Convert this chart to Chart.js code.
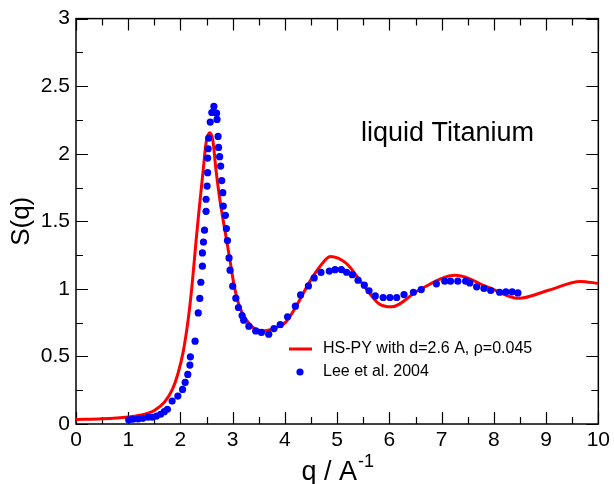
<!DOCTYPE html>
<html>
<head>
<meta charset="utf-8">
<title>liquid Titanium S(q)</title>
<script src="https://cdn.jsdelivr.net/npm/chart.js@4/dist/chart.umd.min.js"></script>
<style>
  body { margin: 0; background: #fff; }
  canvas { display: block; }
</style>
</head>
<body>
<canvas id="sq" width="614" height="484"></canvas>
<script>
// HS-PY model curve
const hsQ = [0, 0.5, 1.0, 1.3, 1.5, 1.7, 1.85, 1.95, 2.05, 2.15, 2.22, 2.30, 2.35, 2.43, 2.49, 2.56,
    2.62, 2.68, 2.75, 2.83, 2.94, 3.03, 3.13, 3.26, 3.42, 3.58, 3.8, 4.02, 4.21, 4.47, 4.66, 4.87,
    5.17, 5.48, 5.80, 6.04, 6.56, 7.27, 7.9, 8.47, 9.05, 9.66, 10];
const hsS = [0.033, 0.038, 0.052, 0.070, 0.100, 0.165, 0.26, 0.37, 0.53, 0.78, 1.02, 1.36, 1.56, 1.86, 2.08, 2.155,
    2.10, 1.88, 1.67, 1.48, 1.23, 1.02, 0.87, 0.77, 0.705, 0.69, 0.71, 0.756, 0.867, 1.05, 1.16, 1.24,
    1.19, 1.04, 0.89, 0.867, 0.99, 1.10, 1.01, 0.93, 0.99, 1.055, 1.04];

// Lee et al. 2004 measured points
const leeQ = [1.01, 1.09, 1.19, 1.28, 1.38, 1.46, 1.54, 1.62, 1.69, 1.75, 1.84, 1.95, 2.04, 2.09, 2.14, 2.18,
    2.19, 2.28, 2.34, 2.37, 2.39, 2.42, 2.42, 2.44, 2.46, 2.49, 2.49, 2.51, 2.52, 2.52, 2.53, 2.54,
    2.57, 2.60, 2.64, 2.69, 2.70, 2.72, 2.73, 2.75, 2.77, 2.79, 2.81, 2.82, 2.86, 2.88, 2.90, 2.93,
    2.95, 3.00, 3.06, 3.11, 3.18, 3.21, 3.31, 3.44, 3.55, 3.69, 3.79, 3.91, 4.05, 4.20, 4.30, 4.45,
    4.56, 4.69, 4.85, 4.96, 5.08, 5.18, 5.29, 5.40, 5.52, 5.61, 5.73, 5.88, 6.01, 6.14, 6.28, 6.46,
    6.61, 6.90, 7.06, 7.17, 7.31, 7.46, 7.54, 7.67, 7.81, 7.94, 8.11, 8.23, 8.35, 8.46];
const leeS = [0.030, 0.035, 0.037, 0.042, 0.050, 0.050, 0.059, 0.072, 0.091, 0.109, 0.170, 0.207, 0.256, 0.308, 0.367, 0.436,
    0.497, 0.613, 0.822, 0.929, 1.049, 1.168, 1.266, 1.347, 1.434, 1.574, 1.663, 1.761, 1.860, 1.968, 2.037, 2.116,
    2.234, 2.305, 2.350, 2.300, 2.254, 2.128, 2.047, 1.978, 1.909, 1.801, 1.712, 1.613, 1.544, 1.446, 1.357, 1.229,
    1.138, 1.020, 0.931, 0.862, 0.803, 0.768, 0.724, 0.689, 0.678, 0.665, 0.706, 0.735, 0.793, 0.872, 0.955, 1.022,
    1.081, 1.122, 1.132, 1.142, 1.143, 1.123, 1.105, 1.064, 1.027, 0.986, 0.948, 0.936, 0.936, 0.936, 0.958, 0.975,
    0.995, 1.037, 1.057, 1.057, 1.057, 1.057, 1.044, 1.015, 1.003, 0.988, 0.975, 0.978, 0.978, 0.970];

const xMin = 0, xMax = 10, xStep = 1;
const yMin = 0, yMax = 3, yStep = 0.5;

const FONT = "'Liberation Sans', Arial, sans-serif";

// inward ticks on all four sides plus the box
const frame = {
    id: 'frame',
    beforeDatasetsDraw(chart) {
        const { ctx, chartArea: a, scales: { x, y } } = chart;
        ctx.save();
        ctx.strokeStyle = '#000';
        ctx.lineWidth = 1.2;
        ctx.beginPath();
        for (let v = xMin; v <= xMax + 1e-9; v += xStep / 2) {
            const px = Math.round(x.getPixelForValue(v)) + 0.5;
            const len = Math.abs(v % 1) < 1e-9 ? 12 : 7;
            ctx.moveTo(px, a.bottom); ctx.lineTo(px, a.bottom - len);
            ctx.moveTo(px, a.top); ctx.lineTo(px, a.top + len);
        }
        for (let v = yMin; v <= yMax + 1e-9; v += yStep / 2) {
            const py = Math.round(y.getPixelForValue(v)) + 0.5;
            const len = Math.abs((v / yStep) % 1) < 1e-9 ? 12 : 7;
            ctx.moveTo(a.left, py); ctx.lineTo(a.left + len, py);
            ctx.moveTo(a.right, py); ctx.lineTo(a.right - len, py);
        }
        ctx.stroke();
        ctx.lineWidth = 1.5;
        ctx.strokeRect(a.left, a.top, a.right - a.left, a.bottom - a.top);
        ctx.restore();
    },
    afterDraw(chart) {
        const { ctx, chartArea: a } = chart;
        ctx.save();
        ctx.fillStyle = '#000';
        ctx.textBaseline = 'alphabetic';

        // label in the plot
        ctx.font = '27px ' + FONT;
        ctx.fillText('liquid Titanium', 361, 141);

        // x axis title with superscript
        const base = 'q / A', sup = '-1';
        ctx.font = '27px ' + FONT;
        const w1 = ctx.measureText(base).width;
        ctx.font = '18px ' + FONT;
        const w2 = ctx.measureText(sup).width;
        const left = (a.left + a.right) / 2 - (w1 + w2) / 2;
        ctx.font = '27px ' + FONT;
        ctx.fillText(base, left, 480);
        ctx.font = '18px ' + FONT;
        ctx.fillText(sup, left + w1 + 1, 467);

        // legend
        ctx.font = '16px ' + FONT;
        ctx.textBaseline = 'middle';
        ctx.strokeStyle = '#ff0000';
        ctx.lineWidth = 3;
        ctx.beginPath();
        ctx.moveTo(289, 349); ctx.lineTo(312, 349);
        ctx.stroke();
        ctx.fillText('HS-PY with d=2.6 A, \u03c1=0.045', 323, 349);
        ctx.fillStyle = '#0000ff';
        ctx.beginPath();
        ctx.arc(300, 372, 3.6, 0, Math.PI * 2);
        ctx.fill();
        ctx.fillStyle = '#000';
        ctx.fillText('Lee et al. 2004', 323, 372);
        ctx.restore();
    }
};

new Chart(document.getElementById('sq'), {
    type: 'scatter',
    data: {
        datasets: [{
            label: 'HS-PY with d=2.6 A, \u03c1=0.045',
            data: hsQ.map((q, i) => ({ x: q, y: hsS[i] })),
            showLine: true,
            borderColor: '#ff0000',
            borderWidth: 3,
            pointRadius: 0,
            cubicInterpolationMode: 'monotone',
            order: 2
        }, {
            label: 'Lee et al. 2004',
            data: leeQ.map((q, i) => ({ x: q, y: leeS[i] })),
            showLine: false,
            backgroundColor: '#0000ff',
            borderWidth: 0,
            pointRadius: 3.6,
            order: 1
        }]
    },
    options: {
        responsive: false,
        animation: false,
        layout: { padding: { top: 18, right: 14, left: 0, bottom: 0 } },
        plugins: {
            legend: { display: false },
            tooltip: { enabled: false }
        },
        scales: {
            x: {
                type: 'linear',
                min: xMin,
                max: xMax,
                afterFit: s => { s.height = 60; },
                grid: { display: false, drawTicks: false },
                border: { display: false },
                ticks: {
                    stepSize: xStep,
                    padding: 4,
                    color: '#000',
                    font: { family: FONT, size: 21 },
                    callback: v => String(v)
                }
            },
            y: {
                min: yMin,
                max: yMax,
                afterFit: s => { s.width = 76; },
                grid: { display: false, drawTicks: false },
                border: { display: false },
                title: {
                    display: true,
                    text: 'S(q)',
                    color: '#000',
                    padding: { top: 6, bottom: 0 },
                    font: { family: FONT, size: 26 }
                },
                ticks: {
                    stepSize: yStep,
                    padding: 6,
                    color: '#000',
                    font: { family: FONT, size: 21 },
                    callback: v => String(Number(v.toFixed(2)))
                }
            }
        }
    },
    plugins: [frame]
});
</script>
</body>
</html>
